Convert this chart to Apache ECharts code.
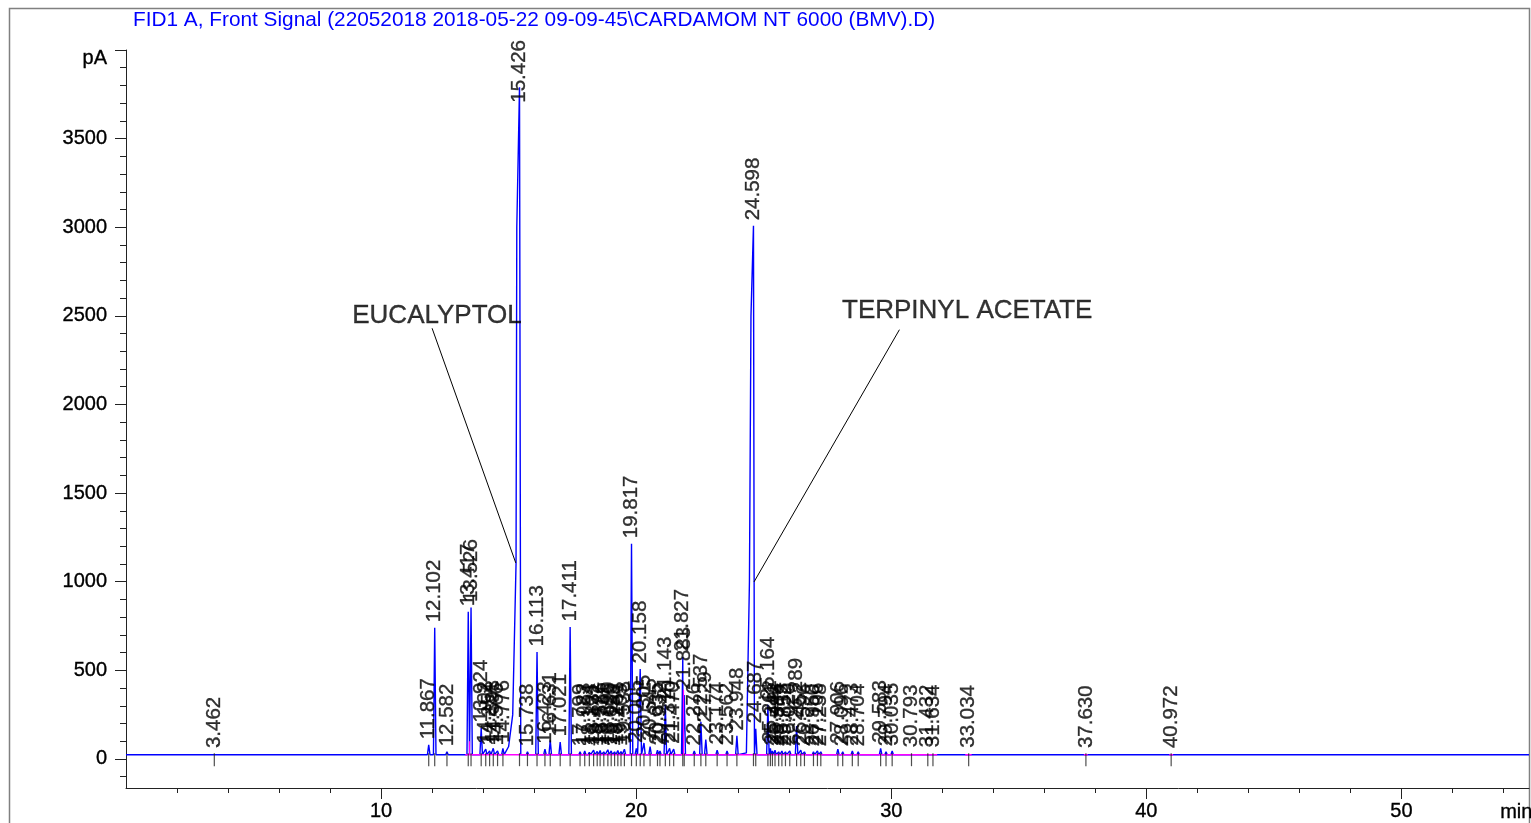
<!DOCTYPE html>
<html><head><meta charset="utf-8">
<script src="https://cdn.jsdelivr.net/npm/echarts@6/dist/echarts.min.js"></script>
<style>html,body{margin:0;padding:0;background:#fff}#c{width:1531px;height:823px}</style>
</head><body><div id="c"></div>
<script>
// ---------------- data ----------------
const titleText = 'FID1 A, Front Signal (22052018 2018-05-22 09-09-45\\CARDAMOM NT 6000 (BMV).D)';
const baselineLevel = 24;
const peakTimes = [3.462, 11.867, 12.102, 12.582, 13.417, 13.526, 13.924, 14.102, 14.254, 14.398, 14.566, 14.776,
  15.426, 15.738, 16.113, 16.423, 16.631, 17.021, 17.411,
  17.799, 17.983, 18.164, 18.331, 18.472, 18.586, 18.731, 18.890, 19.020, 19.153, 19.281, 19.405, 19.538,
  19.817, 20.005, 20.158, 20.305, 20.545, 20.835, 20.932, 21.143, 21.310, 21.470, 21.827, 21.883,
  22.276, 22.537, 22.729, 23.174, 23.562, 23.948, 24.598, 24.687, 25.164,
  25.262, 25.341, 25.442, 25.586, 25.713, 25.852, 26.020, 26.289, 26.452, 26.596,
  26.950, 27.106, 27.238, 27.906, 28.096, 28.473, 28.704, 29.583, 29.794, 30.035, 30.793, 31.432, 31.634,
  33.034, 37.630, 40.972];
const peakHeights = [30, 80, 740, 40, 830, 855, 175, 55, 45, 60, 45, 60,
  3790, 40, 604, 55, 105, 95, 745,
  40, 45, 38, 50, 42, 48, 40, 52, 45, 40, 48, 42, 55,
  1214, 60, 508, 90, 70, 50, 45, 305, 60, 55, 575, 360,
  45, 210, 110, 50, 45, 130, 3008, 170, 305,
  60, 45, 50, 40, 45, 40, 45, 185, 50, 40,
  40, 45, 40, 55, 40, 45, 40, 60, 40, 45, 35, 35, 35,
  32, 30, 30];
// leading-edge (fronting) points of the two overloaded peaks
const frontingPeaks = [15.426, 24.598];
const frontingTimes = [14.85, 15.0, 15.16, 15.29, 15.32, 24.32, 24.44, 24.50];
const frontingValues = [35, 70, 250, 1100, 3000, 34, 1000, 2500];
// labels that the instrument pushed down into the peak (clipped at plot top)
const loweredLabelPeaks = [15.426];
// integration baseline segments (magenta)
const integStart = [13.3, 32.9, 37.55, 40.9];
const integEnd = [31.8, 33.15, 37.7, 41.05];
const dropTimes = [13.47, 21.86];
const dropTops = [100, 390];
// annotations
const annoNames = ['EUCALYPTOL', 'TERPINYL ACETATE'];
const annoTextAt = [[8.85, 2500], [28.05, 2529]];
const annoLineFrom = [[12.0, 2430], [30.32, 2422]];
const annoLineTo = [[15.28, 1106], [24.62, 999]];
// axes
const xMin = 0, xMax = 55;
const yMin = -164, yMax = 4000;
const xMajor = [10, 20, 30, 40, 50];
const xMinor = [2, 4, 6, 8, 12, 14, 16, 18, 22, 24, 26, 28, 32, 34, 36, 38, 42, 44, 46, 48, 52, 54];
const yMajor = [0, 500, 1000, 1500, 2000, 2500, 3000, 3500, 4000];
const yMinor = [-100, 100, 200, 300, 400, 600, 700, 800, 900, 1100, 1200, 1300, 1400, 1600, 1700, 1800, 1900,
  2100, 2200, 2300, 2400, 2600, 2700, 2800, 2900, 3100, 3200, 3300, 3400, 3600, 3700, 3800, 3900];

// ---------------- build ----------------
const FONT = '"Liberation Sans", Arial, sans-serif';
const halfW = 0.05;
const trace = [[xMin, baselineLevel], [xMax, baselineLevel]];
peakTimes.forEach((t, i) => {
  const fronting = frontingPeaks.includes(t);
  if (!fronting) trace.push([t - halfW, baselineLevel]);
  trace.push([t, peakHeights[i]]);
  trace.push([t + halfW, baselineLevel]);
});
frontingTimes.forEach((t, i) => trace.push([t, frontingValues[i]]));
trace.sort((a, b) => a[0] - b[0]);

const integData = [];
integStart.forEach((s, i) => {
  if (i > 0) integData.push(['-', '-']);
  integData.push([s, baselineLevel], [integEnd[i], baselineLevel]);
});

const textInk = {color: '#000', textBorderColor: '#000', textBorderWidth: 0.35, fontFamily: FONT};
const axisColor = '#222';
const chart = echarts.init(document.getElementById('c'), null, {renderer: 'canvas'});
chart.setOption({
  animation: false,
  backgroundColor: '#fff',
  grid: {left: 126, right: 2, top: 50, bottom: 35, containLabel: false},
  xAxis: [
    {type: 'value', min: xMin, max: xMax, position: 'bottom',
      axisLine: {show: true, onZero: false, lineStyle: {color: axisColor, width: 1}},
      axisTick: {show: true, length: 11, customValues: xMajor, lineStyle: {color: axisColor}},
      axisLabel: Object.assign({show: true, customValues: xMajor, margin: 13, fontSize: 20}, textInk),
      splitLine: {show: false}},
    {type: 'value', min: xMin, max: xMax, position: 'bottom',
      axisLine: {show: false, onZero: false},
      axisTick: {show: true, length: 5, customValues: xMinor, lineStyle: {color: axisColor}},
      axisLabel: {show: false}, splitLine: {show: false}}
  ],
  yAxis: [
    {type: 'value', min: yMin, max: yMax, position: 'left',
      axisLine: {show: true, onZero: false, lineStyle: {color: axisColor, width: 1}},
      axisTick: {show: true, length: 11, customValues: yMajor, lineStyle: {color: axisColor}},
      axisLabel: Object.assign({show: true, customValues: yMajor, margin: 19, fontSize: 20,
        formatter: v => v === yMax ? '{p|pA}' : String(v),
        rich: {p: {fontSize: 20, padding: [16, 0, 0, 0], color: '#000', textBorderColor: '#000', textBorderWidth: 0.35, fontFamily: FONT}}}, textInk),
      splitLine: {show: false}},
    {type: 'value', min: yMin, max: yMax, position: 'left',
      axisLine: {show: false, onZero: false},
      axisTick: {show: true, length: 6, customValues: yMinor, lineStyle: {color: axisColor}},
      axisLabel: {show: false}, splitLine: {show: false}}
  ],
  graphic: [
    {type: 'rect', shape: {x: 9.5, y: 8.5, width: 1520, height: 900}, style: {fill: 'none', stroke: '#808080', lineWidth: 1.5}, silent: true, z: 0},
    {type: 'text', left: 133, top: 10, style: {text: titleText, fontSize: 20.8, fill: '#0000ff', fontFamily: FONT}},
    {type: 'text', left: 1500, top: 802, style: {text: 'min', fontSize: 20, fill: '#000', stroke: '#000', lineWidth: 0.35, fontFamily: FONT}}
  ],
  series: [
    {type: 'line', name: 'signal', data: trace, showSymbol: false, symbol: 'none', z: 2,
      lineStyle: {color: '#0000ff', width: 1.4}, silent: true},
    {type: 'line', name: 'integration', data: integData, showSymbol: false, symbol: 'none', z: 3,
      lineStyle: {color: '#ff00ff', width: 1.4}, silent: true, connectNulls: false,
      markLine: {silent: true, symbol: ['none', 'none'], label: {show: false},
        lineStyle: {color: '#ff00ff', width: 1.2, type: 'solid'},
        data: dropTimes.map((t, i) => [{coord: [t, baselineLevel]}, {coord: [t, dropTops[i]]}])}},
    {type: 'scatter', name: 'ticks', data: peakTimes.map(t => [t, baselineLevel]), symbol: 'rect',
      symbolSize: [1.2, 13], symbolOffset: [0, 5], itemStyle: {color: '#222'}, z: 4, silent: true},
    {type: 'scatter', name: 'labels',
      data: peakTimes.map((t, i) => loweredLabelPeaks.includes(t)
        ? {value: [t, peakHeights[i]], label: {distance: -16}}
        : [t, peakHeights[i]]),
      symbolSize: 1, itemStyle: {color: 'rgba(0,0,0,0)'}, z: 5, silent: true,
      label: Object.assign({show: true, position: 'top', distance: 5, rotate: 90, align: 'left', verticalAlign: 'middle',
        formatter: p => p.value[0].toFixed(3), fontSize: 20.5}, textInk)},
    {type: 'scatter', name: 'annotations', data: annoNames.map((n, i) => ({name: n, value: annoTextAt[i]})),
      symbolSize: 1, itemStyle: {color: 'rgba(0,0,0,0)'}, z: 6, silent: true,
      label: Object.assign({show: true, position: 'right', distance: 0, formatter: p => p.name, fontSize: 26}, textInk),
      markLine: {silent: true, symbol: ['none', 'none'], label: {show: false},
        lineStyle: {color: '#000', width: 1, type: 'solid'},
        data: annoLineFrom.map((f, i) => [{coord: f}, {coord: annoLineTo[i]}])}}
  ]
});
</script></body></html>
